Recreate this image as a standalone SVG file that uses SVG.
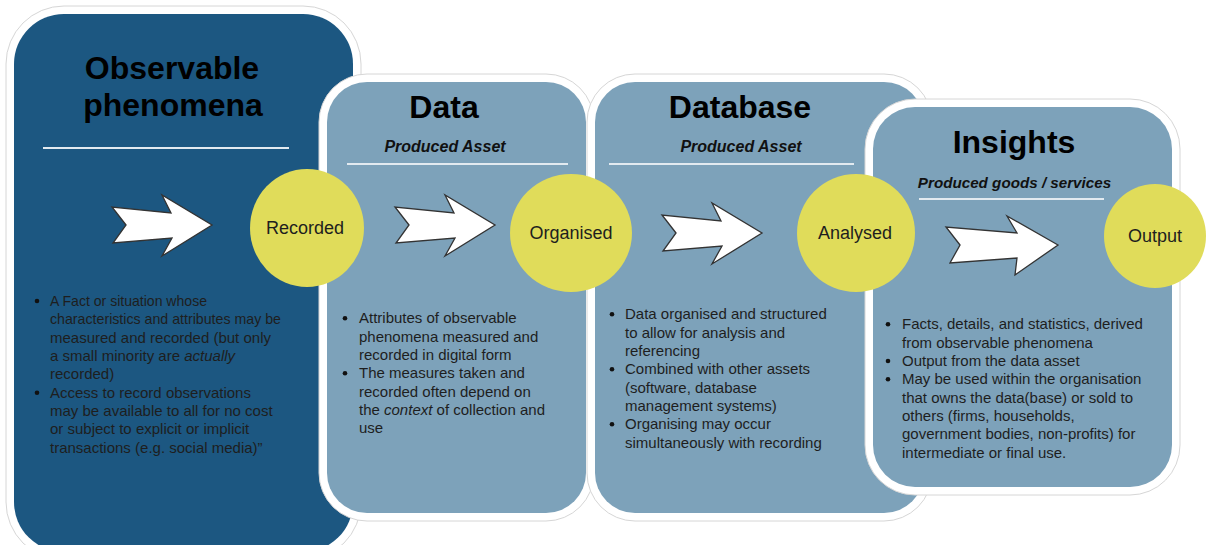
<svg xmlns="http://www.w3.org/2000/svg" width="1207" height="545" viewBox="0 0 1207 545">
<style>
.outer{fill:#ffffff;stroke:#d6d6d6;stroke-width:1}
.dark{fill:#1c5781}
.light{fill:#7da2ba}
.title{font-family:"Liberation Sans",Arial,sans-serif;font-weight:bold;font-size:32px;fill:#000;text-anchor:middle}
.sub{font-family:"Liberation Sans",Arial,sans-serif;font-weight:bold;font-style:italic;font-size:16px;fill:#111;text-anchor:middle}
.div{stroke:#e2eaf0;stroke-width:2}
.body{font-family:"Liberation Sans",Arial,sans-serif;font-size:15px;fill:#1e1e1e}
.bul{fill:#111}
.circ{fill:#e0dc5a}
.clabel{font-family:"Liberation Sans",Arial,sans-serif;font-size:18px;fill:#1e1e1e;text-anchor:middle}
.arrow{fill:#ffffff;stroke:#333333;stroke-width:1.3;stroke-linejoin:miter}
</style>
<defs>
<path id="arr" d="M0,0 L-14,-18 L45,-12 L36,-30 L86,0 L36,31 L46,13 L-13,18 Z"/>
</defs>
<rect width="1207" height="545" fill="#ffffff"/>

<g id="node-observable">
<rect class="outer" x="6" y="6" width="355" height="554" rx="58"/>
<rect class="dark" x="14" y="14" width="339" height="538" rx="50"/>
<text class="title" x="172" y="79">Observable</text>
<text class="title" x="173" y="116">phenomena</text>
<line class="div" x1="43" y1="148" x2="289" y2="148"/>
<g class="body">
<text x="50" y="306" textLength="157" lengthAdjust="spacingAndGlyphs">A Fact or situation whose</text>
<text x="50" y="324.3" textLength="231" lengthAdjust="spacingAndGlyphs">characteristics and attributes may be</text>
<text x="50" y="342.7">measured and recorded (but only</text>
<text x="50" y="361">a small minority are <tspan font-style="italic">actually</tspan></text>
<text x="50" y="379.3">recorded)</text>
<text x="50" y="397.7">Access to record observations</text>
<text x="50" y="416">may be available to all for no cost</text>
<text x="50" y="434.3">or subject to explicit or implicit</text>
<text x="50" y="452.7">transactions (e.g. social media)”</text>
</g>
<circle class="bul" cx="37" cy="301" r="2.3"/>
<circle class="bul" cx="37" cy="392.7" r="2.3"/>
</g>

<g id="node-data">
<rect class="outer" x="319" y="74" width="275" height="447" rx="48"/>
<rect class="light" x="327" y="82" width="259" height="431" rx="40"/>
<text class="title" x="444" y="118">Data</text>
<text class="sub" x="445" y="152">Produced Asset</text>
<line class="div" x1="347" y1="164" x2="568" y2="164"/>
<g class="body">
<text x="359" y="323.3">Attributes of observable</text>
<text x="359" y="341.7">phenomena measured and</text>
<text x="359" y="360">recorded in digital form</text>
<text x="359" y="378.3">The measures taken and</text>
<text x="359" y="396.7">recorded often depend on</text>
<text x="359" y="415">the <tspan font-style="italic">context</tspan> of collection and</text>
<text x="359" y="433.3">use</text>
</g>
<circle class="bul" cx="345" cy="318.3" r="2.3"/>
<circle class="bul" cx="345" cy="373.3" r="2.3"/>
</g>

<g id="node-database">
<rect class="outer" x="587" y="74" width="345" height="447" rx="48"/>
<rect class="light" x="595" y="82" width="329" height="431" rx="40"/>
<text class="title" x="740" y="118">Database</text>
<text class="sub" x="741" y="152">Produced Asset</text>
<line class="div" x1="609" y1="164" x2="854" y2="164"/>
<g class="body">
<text x="625" y="319.3">Data organised and structured</text>
<text x="625" y="337.7">to allow for analysis and</text>
<text x="625" y="356">referencing</text>
<text x="625" y="374.3">Combined with other assets</text>
<text x="625" y="392.7">(software, database</text>
<text x="625" y="411">management systems)</text>
<text x="625" y="429.3">Organising may occur</text>
<text x="625" y="447.7">simultaneously with recording</text>
</g>
<circle class="bul" cx="612" cy="314.3" r="2.3"/>
<circle class="bul" cx="612" cy="369.3" r="2.3"/>
<circle class="bul" cx="612" cy="424.3" r="2.3"/>
</g>

<g id="node-insights">
<rect class="outer" x="865" y="99" width="315" height="396" rx="50"/>
<rect class="light" x="873" y="107" width="299" height="380" rx="42"/>
<text class="title" x="1014" y="153">Insights</text>
<text class="sub" x="1014.5" y="188" style="font-size:15.2px">Produced goods / services</text>
<line class="div" x1="919" y1="199" x2="1104" y2="199"/>
<g class="body">
<text x="902" y="329.3">Facts, details, and statistics, derived</text>
<text x="902" y="347.7">from observable phenomena</text>
<text x="902" y="366">Output from the data asset</text>
<text x="902" y="384.3">May be used within the organisation</text>
<text x="902" y="402.7">that owns the data(base) or sold to</text>
<text x="902" y="421">others (firms, households,</text>
<text x="902" y="439.3">government bodies, non-profits) for</text>
<text x="902" y="457.7">intermediate or final use.</text>
</g>
<circle class="bul" cx="888" cy="324.3" r="2.3"/>
<circle class="bul" cx="888" cy="361" r="2.3"/>
<circle class="bul" cx="888" cy="379.3" r="2.3"/>
</g>

<g id="connectors">
<use href="#arr" class="arrow" transform="translate(126,225)"/>
<use href="#arr" class="arrow" transform="translate(409,225)"/>
<use href="#arr" class="arrow" transform="translate(676,233)"/>
<path class="arrow" d="M960,245 L946,227 L1017,233 L1007,216 L1058,245 L1015,275 L1017,258 L950,263 Z"/>
</g>

<g id="node-recorded">
<ellipse class="circ" cx="307" cy="228" rx="57" ry="59"/>
<text class="clabel" x="305" y="234">Recorded</text>
</g>
<g id="node-organised">
<ellipse class="circ" cx="571" cy="233" rx="61" ry="59"/>
<text class="clabel" x="571" y="239">Organised</text>
</g>
<g id="node-analysed">
<circle class="circ" cx="856" cy="233" r="59"/>
<text class="clabel" x="855" y="239">Analysed</text>
</g>
<g id="node-output">
<ellipse class="circ" cx="1155" cy="236" rx="51" ry="52"/>
<text class="clabel" x="1155" y="242">Output</text>
</g>
</svg>
